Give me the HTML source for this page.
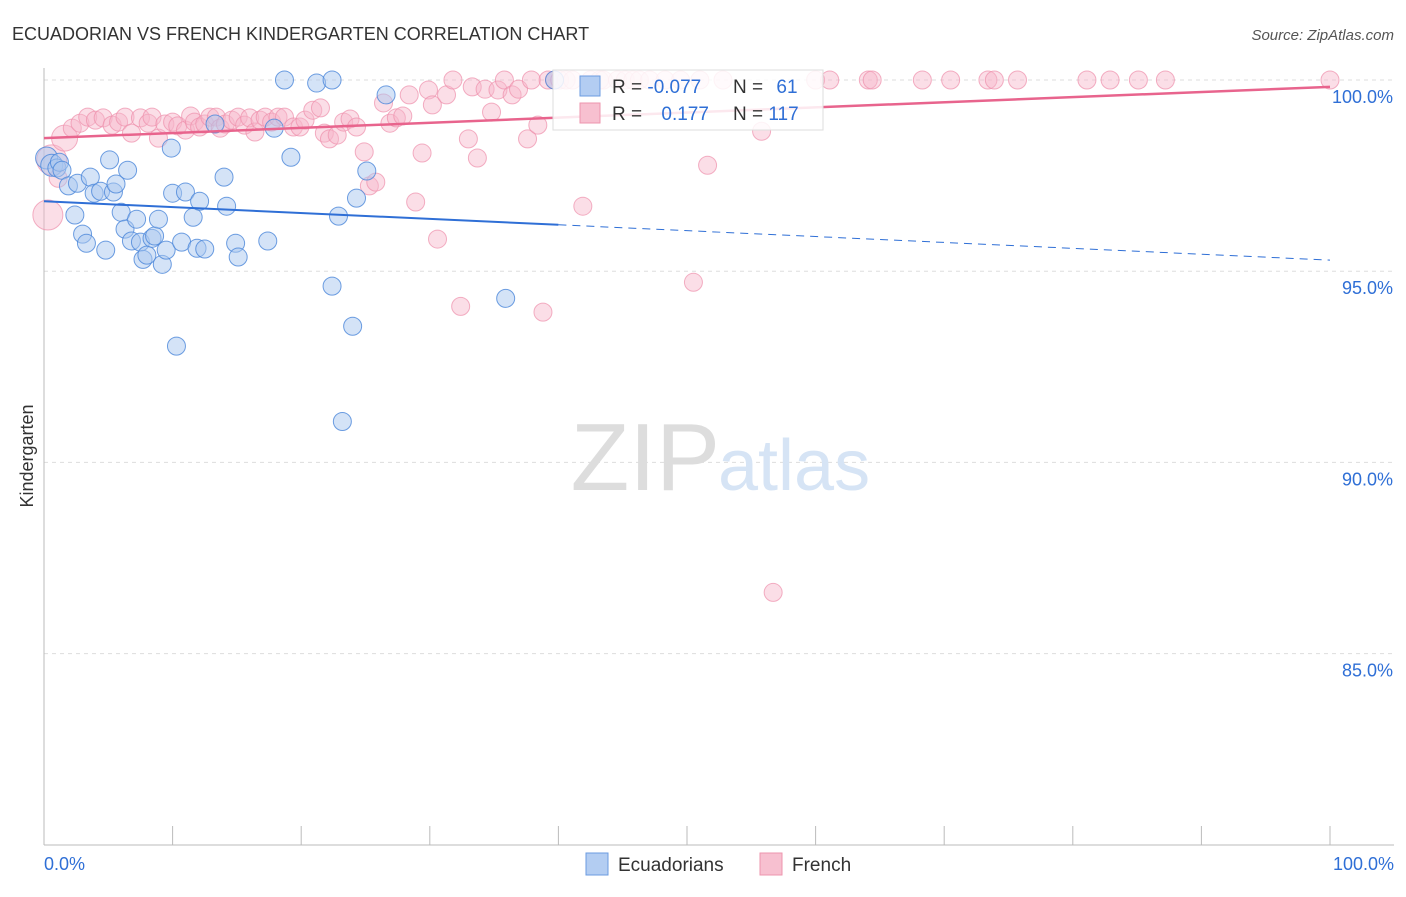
<!DOCTYPE html>
<html><head><meta charset="utf-8"><style>
body{margin:0;background:#fff;font-family:"Liberation Sans",sans-serif}
svg text{font-family:"Liberation Sans",sans-serif}
</style></head><body>
<svg id="chart" width="1406" height="892">
<text x="12" y="40" font-size="18" fill="#333">ECUADORIAN VS FRENCH KINDERGARTEN CORRELATION CHART</text>
<text x="1394" y="40" font-size="15" fill="#555" text-anchor="end" font-style="italic">Source: ZipAtlas.com</text>
<text x="33" y="456" font-size="18" fill="#333" transform="rotate(-90 33 456)" text-anchor="middle">Kindergarten</text>
<g id="grid"></g>
<text x="720" y="490" font-size="96" fill="#ddd" text-anchor="end" font-family="Liberation Serif">ZIP</text>
<text x="718" y="490" font-size="72" fill="#d6e4f5">atlas</text>
<g id="pts"></g>
<g id="lines"></g>
<g>
<rect x="553" y="70" width="270" height="60" fill="#fff" fill-opacity="0.85" stroke="#ddd"/>
<rect x="580" y="76" width="20" height="20" fill="#b3cdf2" stroke="#6b9be0"/>
<rect x="580" y="103" width="20" height="20" fill="#f7c0d0" stroke="#ee95ae"/>
<text x="612" y="93" font-size="19" fill="#333">R = <tspan fill="#2f6fd6">-0.077</tspan></text>
<text x="733" y="93" font-size="19" fill="#333">N = <tspan fill="#2f6fd6" dx="8">61</tspan></text>
<text x="612" y="120" font-size="19" fill="#333">R = <tspan fill="#2f6fd6" dx="14">0.177</tspan></text>
<text x="733" y="120" font-size="19" fill="#333">N = <tspan fill="#2f6fd6">117</tspan></text>
</g>
<g>
<rect x="586" y="853" width="22" height="22" fill="#b3cdf2" stroke="#6b9be0"/>
<text x="618" y="871" font-size="19" fill="#333">Ecuadorians</text>
<rect x="760" y="853" width="22" height="22" fill="#f7c0d0" stroke="#ee95ae"/>
<text x="792" y="871" font-size="19" fill="#333">French</text>
</g>
<text x="44" y="870" font-size="18" fill="#2f6fd6">0.0%</text>
<text x="1394" y="870" font-size="18" fill="#2f6fd6" text-anchor="end">100.0%</text>
</svg>
<script>
const yTicks=[100,95,90,85];
const yTickLabels=["100.0%","95.0%","90.0%","85.0%"];
const blueX=[0.2,0.6,1.0,1.2,1.4,1.9,2.4,2.6,3.0,3.3,3.6,3.9,4.4,4.8,5.1,5.4,5.6,6.0,6.3,6.5,6.8,7.2,7.5,7.7,8.0,8.4,8.6,8.9,9.2,9.5,9.9,10.0,10.3,10.7,11.0,11.6,11.9,12.1,12.5,13.3,14.0,14.2,14.9,15.1,17.4,17.9,18.7,19.2,21.2,22.4,22.4,22.9,23.2,24.0,24.3,25.1,26.6,35.9,39.7];
const blueY=[97.96,97.77,97.70,97.85,97.64,97.23,96.47,97.30,95.97,95.73,97.46,97.04,97.09,95.55,97.91,97.07,97.28,96.54,96.10,97.64,95.79,96.36,95.76,95.31,95.42,95.86,95.92,96.36,95.18,95.55,98.22,97.04,93.04,95.76,97.07,96.41,95.60,96.83,95.58,98.85,97.46,96.70,95.73,95.37,95.79,98.74,100,97.98,99.92,100,94.61,96.44,91.07,93.56,96.91,97.62,99.61,94.29,100];
const pinkX=[0.3,0.6,1.1,1.6,2.2,2.8,3.4,4.0,4.6,5.3,5.8,6.3,6.8,7.5,8.1,8.4,8.9,9.4,10.0,10.4,11.0,11.4,11.7,12.1,12.5,12.9,13.4,13.7,14.1,14.6,15.1,15.6,16.0,16.4,16.8,17.2,17.7,18.2,18.7,19.4,19.9,20.3,20.9,21.5,21.8,22.2,22.8,23.3,23.8,24.3,24.9,25.3,25.8,26.4,26.9,27.4,27.9,28.4,28.9,29.4,29.9,30.2,30.6,31.3,31.8,32.4,33.0,33.3,33.7,34.3,34.8,35.3,35.8,36.4,36.9,37.6,37.9,38.4,38.8,39.2,39.7,40.1,40.6,41.1,41.9,42.5,43.2,43.5,44.6,45.2,45.8,46.3,47.1,48.3,49.5,50.5,51.0,51.6,52.8,55.8,56.7,60.0,61.1,64.1,64.4,68.3,70.5,73.4,73.9,75.7,81.1,82.9,85.1,87.2,100];
const pinkY=[96.47,97.91,97.43,98.48,98.74,98.87,99.03,98.95,99.01,98.82,98.90,99.03,98.61,99.01,98.87,99.03,98.48,98.85,98.90,98.80,98.69,99.06,98.90,98.77,98.85,99.03,99.03,98.74,98.85,98.95,99.03,98.82,99.01,98.64,98.95,99.03,98.90,99.03,99.03,98.77,98.77,98.95,99.21,99.27,98.61,98.46,98.56,98.90,98.98,98.77,98.12,97.23,97.33,99.40,98.87,99.01,99.06,99.61,96.81,98.09,99.74,99.35,95.84,99.61,100,94.08,98.46,99.82,97.96,99.76,99.16,99.74,100,99.61,99.76,98.46,100,98.82,93.93,100,100,100,100,100,96.70,100,100,100,100,100,100,100,100,100,100,94.71,100,97.77,100,98.66,86.60,100,100,100,100,100,100,100,100,100,100,100,100,100,100];
const blueTrend=[96.83,95.29];
const pinkTrend=[98.48,99.82];
const NS="http://www.w3.org/2000/svg";
const X0=44,X1=1330,Y100=80,PX5=191.2;
const sx=v=>X0+(X1-X0)*v/100;
const sy=v=>Y100+(100-v)/5*PX5;
function mk(t,a,p){const e=document.createElementNS(NS,t);for(const k in a)e.setAttribute(k,a[k]);p.appendChild(e);return e;}
const grid=document.getElementById('grid');
yTicks.forEach((t,i)=>{
 const l=mk('line',{x1:44,x2:1394,y1:sy(t),y2:sy(t),stroke:'#ddd','stroke-dasharray':'4,4'},grid);
 
 
 const tx=mk('text',{x:1393,y:sy(t)+23,'font-size':18,fill:'#2f6fd6','text-anchor':'end'},grid);
 tx.textContent=yTickLabels[i];
 
 
});
const ax=mk('line',{x1:44,x2:44,y1:68,y2:845,stroke:'#bbb'},grid);


const bx=mk('line',{x1:44,x2:1394,y1:845,y2:845,stroke:'#bbb'},grid);


for(let i=0;i<=10;i++){const t=mk('line',{x1:sx(i*10),x2:sx(i*10),y1:826,y2:845,stroke:'#bbb'},grid);
 
 }
const pts=document.getElementById('pts');
pinkX.forEach((x,i)=>{const r=i<2?15:(i===3?13:9);
 const c=mk('circle',{cx:sx(x),cy:sy(pinkY[i]),r:r,fill:'#f7b6c9','fill-opacity':0.45,stroke:'#ee8fab','stroke-opacity':0.7},pts);
 
 });
blueX.forEach((x,i)=>{const r=i<2?11:9;
 const c=mk('circle',{cx:sx(x),cy:sy(blueY[i]),r:r,fill:'#a9c8f0','fill-opacity':0.5,stroke:'#4a86da','stroke-opacity':0.8},pts);
 
 });
const lines=document.getElementById('lines');
const by=x=>blueTrend[0]+(blueTrend[1]-blueTrend[0])*x/100;
const l1=mk('line',{x1:sx(0),y1:sy(by(0)),x2:sx(40),y2:sy(by(40)),stroke:'#2f6fd6','stroke-width':2},lines);


const l2=mk('line',{x1:sx(40),y1:sy(by(40)),x2:sx(100),y2:sy(by(100)),stroke:'#2f6fd6','stroke-width':1,'stroke-dasharray':'8,6'},lines);


const l3=mk('line',{x1:sx(0),y1:sy(pinkTrend[0]),x2:sx(100),y2:sy(pinkTrend[1]),stroke:'#e8648d','stroke-width':2.5},lines);


</script>
</body></html>
